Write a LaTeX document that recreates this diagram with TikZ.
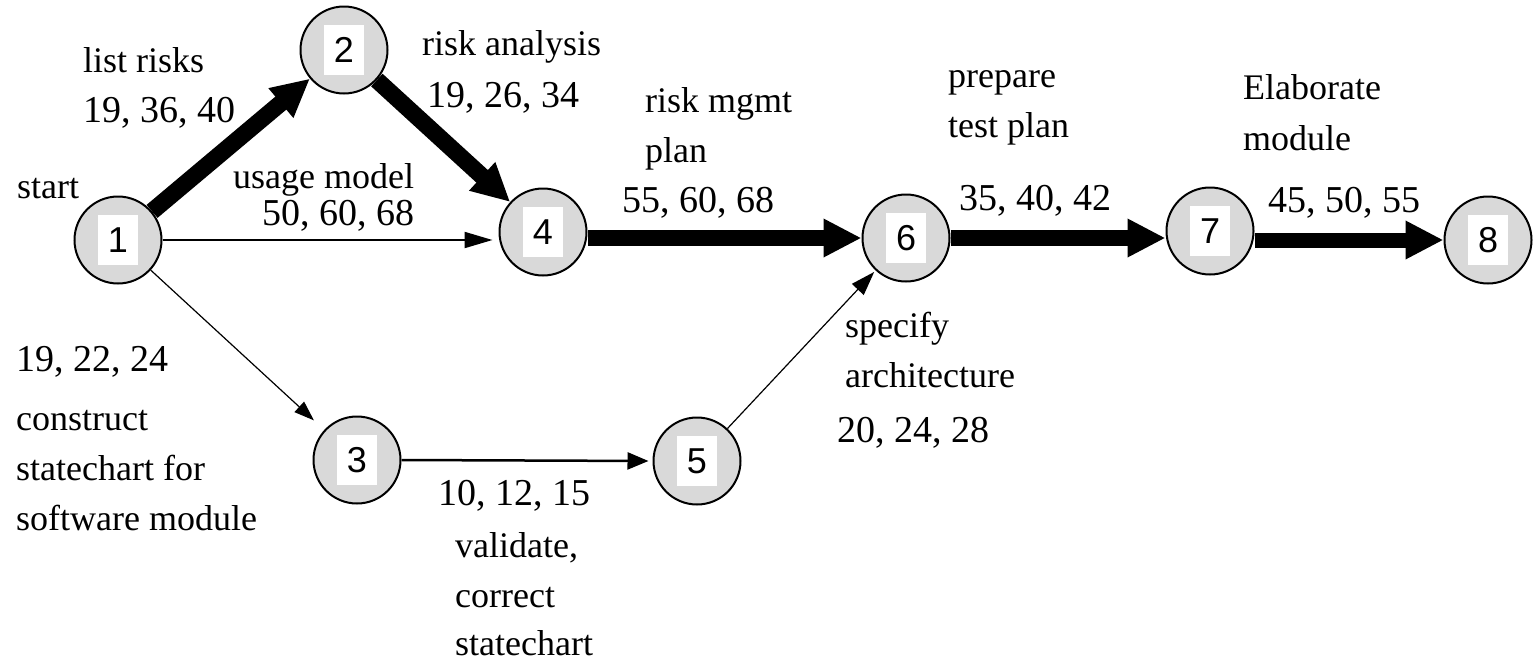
\documentclass[tikz,border=0pt]{standalone}
\usepackage{fontspec}
\setmainfont{Liberation Serif}
\newfontfamily\digitfont{Liberation Sans}
\usetikzlibrary{arrows.meta}

\begin{document}
\begin{tikzpicture}[x=1pt,y=-1pt,
  event/.style={circle, draw=black, line width=2pt, fill=black!15,
                minimum size=87pt, inner sep=0pt},
  numbox/.style={fill=white, minimum width=40pt, minimum height=50pt,
                 inner sep=0pt, font=\digitfont\fontsize{36}{36}\selectfont},
  lbl/.style={anchor=base west, inner sep=0pt, font=\fontsize{36}{40}\selectfont},
  est/.style={anchor=base west, inner sep=0pt, font=\fontsize{38}{40}\selectfont},
  critical/.style={line width=16pt, -{Triangle[length=38pt,width=36pt]}},
  slack/.style={-{Triangle[length=20pt,width=14pt]}},
]
\useasboundingbox (0,0) rectangle (1536,662);

% events
\node[event] (n1) at (118,240) {};
\node[event] (n2) at (344,50)  {};
\node[event] (n3) at (357,460) {};
\node[event] (n4) at (543,232) {};
\node[event] (n5) at (697,461) {};
\node[event] (n6) at (906,238) {};
\node[event] (n7) at (1210,231) {};
\node[event] (n8) at (1488,240) {};
\foreach \i in {1,...,8} \node[numbox] (b\i) at (n\i) {\i};

% critical path
\draw[critical, line width=17pt] (n1) -- (n2);
\draw[critical, line width=17pt] (n2) -- (n4);
\draw[critical] (n4.east |- n6) -- (n6.west);
\draw[critical] (n6.east) -- (n7.west |- n6);
\draw[critical, line width=15pt] (n7.east |- n8) -- (n8.west);

% other activities
\draw[line width=2pt, -{Triangle[length=28pt,width=16pt]}, shorten >=6pt]
  (n1.east) -- (n4.west |- n1);
\draw[slack, line width=1.2pt, shorten >=14pt] (n1) -- (n3);
\draw[line width=2.5pt, -{Triangle[length=21pt,width=17pt]}, shorten >=4pt]
  (n3.east) -- (n5.west);
\draw[slack, line width=1.2pt, -{Triangle[length=24pt,width=16pt]}, shorten >=2pt]
  (n5) -- (n6);

% activity labels
\node[lbl] (t1)  at (83,72)   {list risks};
\node[est] (e1)  at (83,122)  {19, 36, 40};
\node[lbl] (t0)  at (17,198)  {start};
\node[lbl] (t2)  at (233,188) {usage model};
\node[est] (e2)  at (262,225) {50, 60, 68};
\node[lbl] (t3)  at (422,55)  {risk analysis};
\node[est] (e3)  at (427,107) {19, 26, 34};
\node[lbl] (t4a) at (645,112) {risk mgmt};
\node[lbl] (t4b) at (645,162) {plan};
\node[est] (e4)  at (622,212) {55, 60, 68};
\node[lbl] (t5a) at (948,87)  {prepare};
\node[lbl] (t5b) at (948,137) {test plan};
\node[est] (e5)  at (959,210) {35, 40, 42};
\node[lbl] (t6a) at (1243,99) {Elaborate};
\node[lbl] (t6b) at (1243,150){module};
\node[est] (e6)  at (1268,212){45, 50, 55};
\node[est] (e7)  at (16,371)  {19, 22, 24};
\node[lbl] (t7a) at (16,430)  {construct};
\node[lbl] (t7b) at (16,480)  {statechart for};
\node[lbl] (t7c) at (16,530)  {software module};
\node[est] (e8)  at (438,505) {10, 12, 15};
\node[lbl] (t8a) at (455,557) {validate,};
\node[lbl] (t8b) at (455,607) {correct};
\node[lbl] (t8c) at (455,655) {statechart};
\node[lbl] (t9a) at (845,337) {specify};
\node[lbl] (t9b) at (845,387) {architecture};
\node[est] (e9)  at (837,442) {20, 24, 28};
\end{tikzpicture}
\end{document}
